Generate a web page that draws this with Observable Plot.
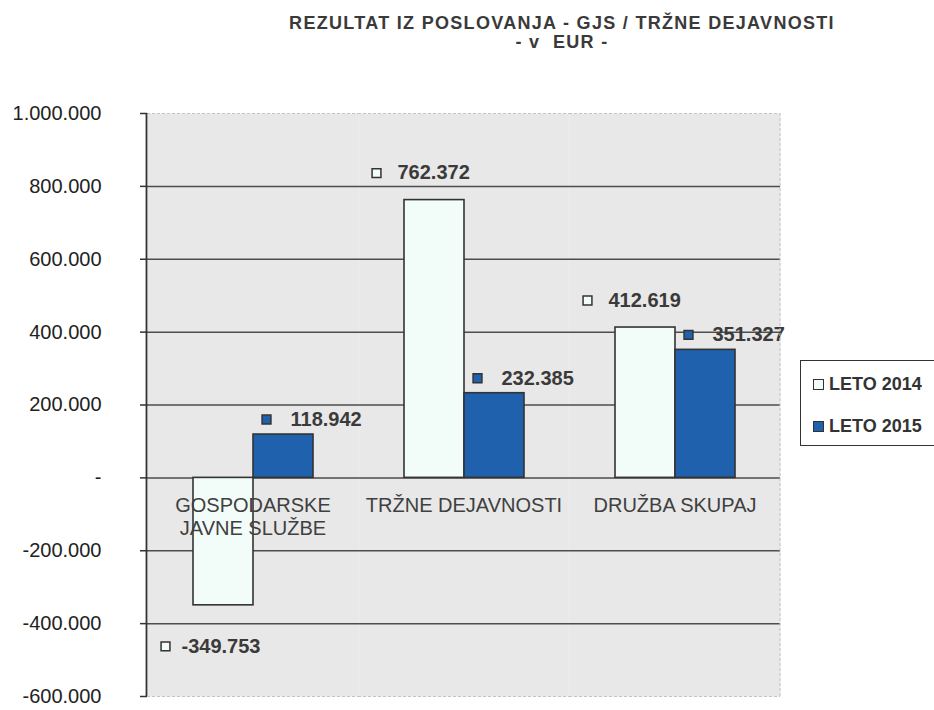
<!DOCTYPE html>
<html>
<head>
<meta charset="utf-8">
<script src="https://cdn.jsdelivr.net/npm/d3@7"></script>
<script src="https://cdn.jsdelivr.net/npm/@observablehq/plot@0.6"></script>
<style>
  html, body { margin: 0; padding: 0; background: #fff; }
  #wrap { position: relative; width: 934px; height: 710px; font-family: "Liberation Sans", Arial, sans-serif; }
  .title { position: absolute; left: 0; width: 1124px; text-align: center; font-weight: bold; font-size: 18px; letter-spacing: 1.3px; color: #3a3a3a; line-height: 20px; }
  #legend { position: absolute; left: 800px; top: 360px; width: 140px; height: 84px; border: 1.5px solid #333; border-right: none; background: #fff; }
  .li { position: absolute; left: 12px; font-weight: bold; font-size: 18px; color: #333; display: flex; align-items: center; }
  .sw { width: 9px; height: 9px; border: 1.5px solid #333; margin-right: 5px; }
</style>
</head>
<body>
<div id="wrap">
  <div id="chart"></div>
  <div class="title" style="top:13px">REZULTAT IZ POSLOVANJA - GJS / TRŽNE DEJAVNOSTI</div>
  <div class="title" style="top:32px">- v&nbsp; EUR -</div>
  <div id="legend"></div>
</div>
<script>
const categories = ["GOSPODARSKE\nJAVNE SLUŽBE", "TRŽNE DEJAVNOSTI", "DRUŽBA SKUPAJ"];
const years = ["LETO 2014", "LETO 2015"];
const values2014 = [-349753, 762372, 412619];
const values2015 = [118942, 232385, 351327];
const yTicks = [-600000, -400000, -200000, 0, 200000, 400000, 600000, 800000, 1000000];
const colors = ["#f2fcf8", "#1f61ad"];

const data = categories.flatMap((c, i) => [
  {cat: c, year: years[0], value: values2014[i]},
  {cat: c, year: years[1], value: values2015[i]}
]);

const loc = d3.formatLocale({decimal: ",", thousands: ".", grouping: [3], currency: ["", " €"], minus: "-"});
const fmtNum = loc.format(",.0f");
const fmtTick = v => v === 0 ? "-" : fmtNum(v);

const pos14 = data.filter(d => d.year === years[0] && d.value >= 0);
const neg14 = data.filter(d => d.year === years[0] && d.value < 0);
const all15 = data.filter(d => d.year === years[1]);

const labelFont = {fontSize: 20, fontWeight: "bold", fill: "#3a3a3a", textAnchor: "start"};
const margins = {left: 146, right: 154, top: 113, bottom: 14};

const chart = Plot.plot({
  width: 934, height: 710,
  marginLeft: margins.left, marginRight: margins.right, marginTop: margins.top, marginBottom: margins.bottom,
  style: {fontFamily: "Liberation Sans, Arial, sans-serif", fontSize: "20px", background: "transparent", color: "#222"},
  fx: {domain: categories, padding: 0, axis: null},
  x: {domain: years, paddingInner: 0, paddingOuter: 0.73, axis: null},
  y: {domain: [-600000, 1000000], axis: null},
  color: {domain: years, range: colors},
  marks: [
    Plot.frame({fill: "#e8e8e8", stroke: null}),
    Plot.ruleY(yTicks.filter(v => v > -600000 && v < 1000000), {stroke: "#4d4d4d", strokeWidth: 1.5}),
    Plot.ruleY([1000000, -600000], {stroke: "#c4c4c4", strokeWidth: 1, strokeDasharray: "3,2"}),
    Plot.axisY({ticks: yTicks, tickFormat: fmtTick, tickSize: 7, tickPadding: 39, fontSize: 20, stroke: "#333", strokeWidth: 1.5, label: null, anchor: "left"}),
    Plot.barY(data, {fx: "cat", x: "year", y: "value", fill: "year", stroke: "#333", strokeWidth: 1.6}),
    Plot.text(categories, {fx: d => d, y: () => 0, text: d => d, dy: 18, lineAnchor: "top", fontSize: 20, fill: "#404040", lineHeight: 1.15}),
    // value labels 2014 positive
    Plot.dot(pos14, {fx: "cat", x: "year", y: "value", dx: -58, dy: -27, symbol: "square", r: 5, fill: colors[0], stroke: "#333", strokeWidth: 1.5}),
    Plot.text(pos14, {fx: "cat", x: "year", y: "value", dx: -37, dy: -27, text: d => fmtNum(d.value), ...labelFont}),
    // value labels 2014 negative
    Plot.dot(neg14, {fx: "cat", x: "year", y: "value", dx: -58, dy: 41, symbol: "square", r: 5, fill: colors[0], stroke: "#333", strokeWidth: 1.5}),
    Plot.text(neg14, {fx: "cat", x: "year", y: "value", dx: -42, dy: 41, text: d => fmtNum(d.value), ...labelFont}),
    // value labels 2015
    Plot.dot(all15, {fx: "cat", x: "year", y: "value", dx: -17, dy: -15, symbol: "square", r: 5, fill: colors[1], stroke: "#333", strokeWidth: 1.5}),
    Plot.text(all15, {fx: "cat", x: "year", y: "value", dx: 7, dy: -15, text: d => fmtNum(d.value), ...labelFont})
  ]
});

// axis line on the left and light dotted border on the right, from the y scale
const yScale = chart.scale("y");
const [yTop, yBot] = [yScale.apply(1000000), yScale.apply(-600000)];
const svg = d3.select(chart);
svg.append("line")
  .attr("x1", margins.left + 0.5).attr("x2", margins.left + 0.5)
  .attr("y1", yTop).attr("y2", yBot)
  .attr("stroke", "#333").attr("stroke-width", 1.8);
svg.append("line")
  .attr("x1", 934 - margins.right).attr("x2", 934 - margins.right)
  .attr("y1", yTop).attr("y2", yBot)
  .attr("stroke", "#c4c4c4").attr("stroke-width", 1).attr("stroke-dasharray", "3,2");

document.getElementById("chart").appendChild(chart);

const legend = document.getElementById("legend");
years.forEach((y, i) => {
  const item = document.createElement("div");
  item.className = "li";
  item.style.top = (i === 0 ? 13 : 55) + "px";
  const sw = document.createElement("span");
  sw.className = "sw";
  sw.style.background = colors[i];
  item.appendChild(sw);
  item.appendChild(document.createTextNode(y));
  legend.appendChild(item);
});
</script>
</body>
</html>
